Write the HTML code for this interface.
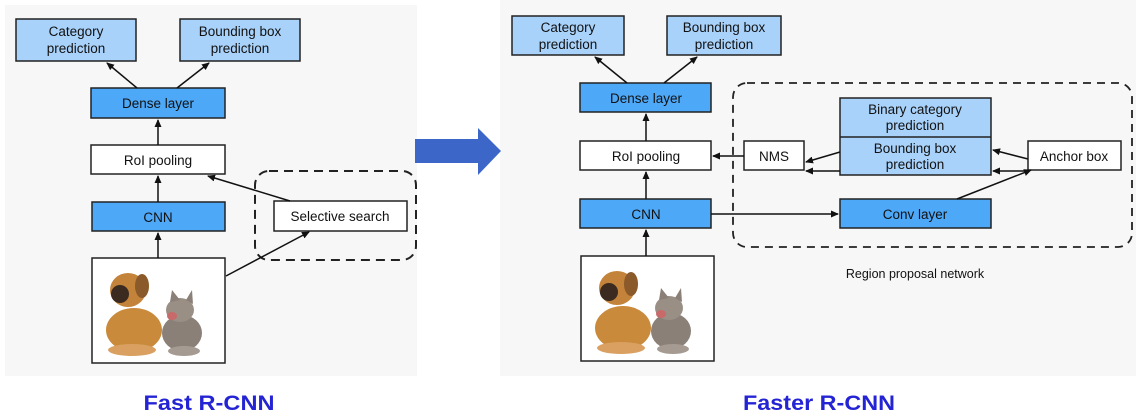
<!DOCTYPE html>
<html><head><meta charset="utf-8"><style>
html,body{margin:0;padding:0;background:#fff;}
svg{display:block;}
text{font-family:"Liberation Sans",Arial,sans-serif;}
</style></head><body>
<svg width="1136" height="420" viewBox="0 0 1136 420" xmlns="http://www.w3.org/2000/svg">
<defs>
<marker id="ah" markerWidth="8" markerHeight="8" refX="7" refY="4" orient="auto" markerUnits="userSpaceOnUse">
<path d="M0,0.5 L8,4 L0,7.5 Z" fill="#111"/>
</marker>
<g id="pets">
<rect x="0" y="0" width="133" height="105" fill="#fff" stroke="#222" stroke-width="1.5"/>
<ellipse cx="42" cy="72" rx="28" ry="22" fill="#c98a3c"/>
<ellipse cx="36" cy="32" rx="18" ry="17" fill="#c4833a"/>
<ellipse cx="28" cy="36" rx="9" ry="9" fill="#3a2a20"/>
<ellipse cx="50" cy="28" rx="7" ry="12" fill="#8a5a2a"/>
<ellipse cx="40" cy="92" rx="24" ry="6" fill="#d9a061"/>
<ellipse cx="90" cy="75" rx="20" ry="18" fill="#8a8078"/>
<ellipse cx="88" cy="52" rx="14" ry="12" fill="#9a8f85"/>
<path d="M78,44 L80,32 L88,42 Z M94,42 L100,32 L101,46 Z" fill="#8a8078"/>
<ellipse cx="80" cy="58" rx="5" ry="4" fill="#c96a6a"/>
<ellipse cx="92" cy="93" rx="16" ry="5" fill="#a69b92"/>
</g>
</defs>

<!-- left panel -->
<rect x="5" y="5" width="412" height="371" fill="#f7f7f7"/>
<!-- right panel -->
<rect x="500" y="0" width="636" height="376" fill="#f7f7f7"/>

<!-- big arrow -->
<path d="M415,139 L478,139 L478,128 L501,151 L478,175 L478,163 L415,163 Z" fill="#3d66c9"/>

<g stroke="#222" stroke-width="1.5">
<!-- LEFT -->
<rect x="16" y="19" width="120" height="42" fill="#a9d2fb"/>
<rect x="180" y="19" width="120" height="42" fill="#a9d2fb"/>
<rect x="91" y="88" width="134" height="30" fill="#4da8f7"/>
<rect x="91" y="145" width="134" height="29" fill="#fff"/>
<rect x="92" y="202" width="133" height="29" fill="#4da8f7"/>
<rect x="274" y="201" width="133" height="30" fill="#fff"/>
<rect x="255" y="171" width="161" height="89" rx="14" fill="none" stroke-dasharray="9,6" stroke-width="2"/>

<!-- RIGHT -->
<rect x="512" y="16" width="112" height="39" fill="#a9d2fb"/>
<rect x="667" y="16" width="114" height="39" fill="#a9d2fb"/>
<rect x="580" y="83" width="131" height="29" fill="#4da8f7"/>
<rect x="580" y="141" width="131" height="29" fill="#fff"/>
<rect x="580" y="199" width="131" height="29" fill="#4da8f7"/>
<rect x="733" y="83" width="399" height="164" rx="14" fill="none" stroke-dasharray="8,6" stroke-width="1.8"/>
<rect x="744" y="141" width="60" height="29" fill="#fff"/>
<rect x="840" y="98" width="151" height="77" fill="#a9d2fb"/>
<line x1="840" y1="137" x2="991" y2="137"/>
<rect x="1028" y="141" width="93" height="29" fill="#fff"/>
<rect x="840" y="199" width="151" height="29" fill="#4da8f7"/>
</g>

<use href="#pets" x="92" y="258"/>
<use href="#pets" x="581" y="256" transform="translate(0,0)"/>

<g stroke="#111" stroke-width="1.5" fill="none" marker-end="url(#ah)">
<!-- left -->
<line x1="137" y1="88" x2="107" y2="63"/>
<line x1="177" y1="88" x2="209" y2="63"/>
<line x1="158" y1="145" x2="158" y2="120"/>
<line x1="158" y1="202" x2="158" y2="176"/>
<line x1="158" y1="258" x2="158" y2="233"/>
<line x1="290" y1="201" x2="208" y2="176"/>
<line x1="226" y1="276" x2="309" y2="232"/>
<!-- right -->
<line x1="627" y1="83" x2="595" y2="57"/>
<line x1="664" y1="83" x2="697" y2="57"/>
<line x1="646" y1="141" x2="646" y2="114"/>
<line x1="646" y1="199" x2="646" y2="172"/>
<line x1="646" y1="256" x2="646" y2="230"/>
<line x1="744" y1="156" x2="713" y2="156"/>
<line x1="840" y1="152" x2="806" y2="162"/>
<line x1="840" y1="171" x2="806" y2="171"/>
<line x1="711" y1="214" x2="838" y2="214"/>
<line x1="1028" y1="159" x2="993" y2="150"/>
<line x1="1028" y1="171" x2="993" y2="171"/>
<line x1="957" y1="199" x2="1031" y2="170"/>
</g>

<g font-size="13.5" fill="#111" text-anchor="middle">
<text x="76" y="36">Category</text><text x="76" y="53">prediction</text>
<text x="240" y="36">Bounding box</text><text x="240" y="53">prediction</text>
<text x="158" y="108">Dense layer</text>
<text x="158" y="165">RoI pooling</text>
<text x="158" y="222">CNN</text>
<text x="340" y="221">Selective search</text>

<text x="568" y="32">Category</text><text x="568" y="49">prediction</text>
<text x="724" y="32">Bounding box</text><text x="724" y="49">prediction</text>
<text x="646" y="103">Dense layer</text>
<text x="646" y="161">RoI pooling</text>
<text x="646" y="219">CNN</text>
<text x="774" y="161">NMS</text>
<text x="915" y="114">Binary category</text><text x="915" y="130">prediction</text>
<text x="915" y="153">Bounding box</text><text x="915" y="169">prediction</text>
<text x="1074" y="161">Anchor box</text>
<text x="915" y="219">Conv layer</text>
<text x="915" y="278" font-size="12.5">Region proposal network</text>
</g>

<g font-size="21" font-weight="bold" fill="#2424d4" text-anchor="middle">
<text x="209" y="410" textLength="131" lengthAdjust="spacingAndGlyphs">Fast R-CNN</text>
<text x="819" y="410" textLength="152" lengthAdjust="spacingAndGlyphs">Faster R-CNN</text>
</g>
</svg>
</body></html>
